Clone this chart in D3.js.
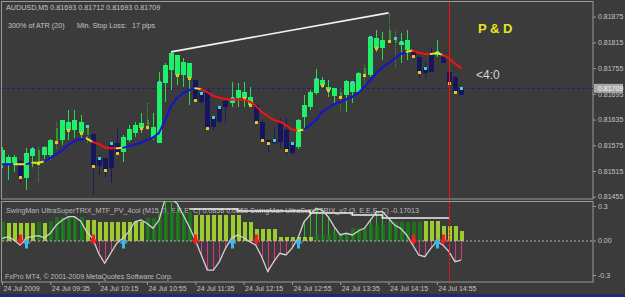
<!DOCTYPE html>
<html>
<head>
<meta charset="utf-8">
<script src="https://cdn.jsdelivr.net/npm/d3@7"></script>
<style>
html, body { margin:0; padding:0; background:#3b3b3b; overflow:hidden; }
svg { display:block; }
text { font-family:"Liberation Sans", Arial, sans-serif; }
</style>
</head>
<body>
<div class="container"></div>
<script>
// AUDUSD M5 bars, 24 Jul 2009 from 08:55
var opens = [0.81529,0.81531,0.81529,0.81538,0.81499,0.81550,0.81534,0.81552,0.81552,0.81583,
  0.81587,0.81611,0.81611,0.81604,0.81599,0.81601,0.81545,0.81545,0.81580,0.81580,
  0.81559,0.81587,0.81604,0.81615,0.81618,0.81594,0.81580,0.81720,0.81751,0.81739,
  0.81739,0.81732,0.81727,0.81697,0.81704,0.81641,0.81664,0.81678,0.81674,0.81685,
  0.81685,0.81669,0.81669,0.81629,0.81587,0.81587,0.81629,0.81611,0.81580,0.81571,
  0.81641,0.81664,0.81697,0.81716,0.81704,0.81690,0.81688,0.81692,0.81699,0.81699,
  0.81739,0.81739,0.81802,0.81802,0.81818,0.81814,0.81809,0.81797,0.81797,0.81781,
  0.81755,0.81790,0.81786,0.81781,0.81746,0.81734,0.81693];
var highs = [0.81571,0.81552,0.81552,0.81541,0.81569,0.81571,0.81571,0.81573,0.81590,0.81629,
  0.81634,0.81657,0.81657,0.81646,0.81620,0.81604,0.81552,0.81545,0.81580,0.81615,
  0.81599,0.81622,0.81629,0.81650,0.81674,0.81650,0.81746,0.81767,0.81793,0.81786,
  0.81779,0.81767,0.81727,0.81697,0.81704,0.81643,0.81667,0.81681,0.81723,0.81720,
  0.81723,0.81711,0.81671,0.81634,0.81590,0.81615,0.81639,0.81639,0.81583,0.81636,
  0.81692,0.81704,0.81753,0.81734,0.81727,0.81709,0.81709,0.81727,0.81723,0.81746,
  0.81762,0.81828,0.81844,0.81839,0.81884,0.81844,0.81837,0.81844,0.81802,0.81783,
  0.81769,0.81802,0.81821,0.81790,0.81751,0.81737,0.81712];
var lows = [0.81522,0.81494,0.81513,0.81487,0.81471,0.81524,0.81487,0.81543,0.81541,0.81564,
  0.81576,0.81587,0.81592,0.81587,0.81580,0.81459,0.81506,0.81501,0.81487,0.81552,
  0.81536,0.81583,0.81594,0.81604,0.81611,0.81587,0.81580,0.81676,0.81704,0.81716,
  0.81711,0.81669,0.81676,0.81669,0.81611,0.81611,0.81627,0.81627,0.81664,0.81664,
  0.81664,0.81664,0.81629,0.81580,0.81559,0.81576,0.81569,0.81552,0.81552,0.81566,
  0.81615,0.81657,0.81692,0.81709,0.81688,0.81674,0.81653,0.81653,0.81674,0.81699,
  0.81709,0.81734,0.81793,0.81774,0.81814,0.81758,0.81767,0.81774,0.81779,0.81732,
  0.81732,0.81746,0.81781,0.81767,0.81720,0.81697,0.81693];
var closes = [0.81564,0.81548,0.81548,0.81501,0.81557,0.81566,0.81564,0.81571,0.81587,0.81615,
  0.81634,0.81629,0.81634,0.81629,0.81620,0.81527,0.81527,0.81517,0.81522,0.81557,
  0.81594,0.81613,0.81622,0.81627,0.81634,0.81618,0.81723,0.81762,0.81790,0.81786,
  0.81769,0.81767,0.81681,0.81676,0.81615,0.81618,0.81629,0.81664,0.81685,0.81704,
  0.81699,0.81688,0.81629,0.81587,0.81580,0.81580,0.81583,0.81564,0.81557,0.81634,
  0.81669,0.81699,0.81730,0.81727,0.81711,0.81709,0.81699,0.81725,0.81723,0.81744,
  0.81755,0.81828,0.81825,0.81821,0.81844,0.81825,0.81816,0.81821,0.81783,0.81746,
  0.81744,0.81746,0.81793,0.81767,0.81720,0.81699,0.81709];
// candle colouring from the template: u = up, g = weak up, d = down
var tones = ['u','u','u','d','u','u','g','u','u','g',
  'u','u','u','u','g','d','d','d','d','d',
  'u','u','u','u','g','u','u','u','u','u',
  'u','u','d','d','d','d','d','d','u','u',
  'u','u','d','d','d','d','d','d','d','u',
  'u','u','u','u','u','u','g','u','u','u',
  'g','u','u','u','g','g','u','u','d','d',
  'd','d','u','d','d','d','d'];
// small marker squares: y = yellow (low end of body), c = cyan (high end)
var dots = ['','','','y','','c','y','','','y',
  '','y','','y','c','y','c','y','c','y',
  '','','','y','y','','c','','','y',
  '','y','y','c','y','c','c','','c','',
  'y','y','y','y','y','c','','y','c','',
  '','','c','y','y','','y','','c','',
  'y','c','y','','y','c','c','','y','y',
  'c','','c','','y','y','c'];
// moving average and its slope state (b = rising, r = falling, y = flat)
var maValues = [0.81531,0.81531,0.81531,0.81531,0.81531,0.81534,0.81534,0.81537,0.81545,0.81554,
  0.81564,0.81576,0.81585,0.81589,0.81591,0.81583,0.81578,0.81570,0.81568,0.81568,
  0.81569,0.81573,0.81577,0.81581,0.81587,0.81593,0.81604,0.81634,0.81667,0.81685,
  0.81697,0.81704,0.81708,0.81706,0.81699,0.81690,0.81686,0.81683,0.81682,0.81681,
  0.81681,0.81677,0.81667,0.81653,0.81643,0.81634,0.81630,0.81622,0.81612,0.81609,
  0.81612,0.81622,0.81634,0.81653,0.81662,0.81671,0.81676,0.81682,0.81688,0.81697,
  0.81711,0.81727,0.81744,0.81757,0.81766,0.81778,0.81788,0.81793,0.81796,0.81791,
  0.81788,0.81788,0.81790,0.81786,0.81778,0.81766,0.81755];
var maState = ['b','b','b','y','y','b','y','y','b','b',
  'b','b','b','b','b','y','r','r','r','r',
  'y','b','b','b','b','b','b','b','b','b',
  'b','b','b','y','r','r','r','r','r','r',
  'r','r','r','r','r','r','r','r','r','r',
  'y','b','b','b','b','b','b','b','b','b',
  'b','b','b','b','b','b','b','b','y','r',
  'r','r','y','y','r','r','r'];
var trendBars = [28, 64];
var cursorBar = 74;
var bidPrice = 0.81709;

// sub window: UltraSuperTRIX_v2 line, MTF histogram, level line
var trix = [0.019,0.033,0.004,-0.039,0.022,0.033,0.042,0.024,0.063,0.135,
  0.178,0.207,0.207,0.170,0.077,0.019,-0.111,-0.198,-0.111,-0.024,
  0.019,0.077,0.163,0.178,0.150,0.106,0.178,0.360,0.360,0.323,
  0.222,0.120,0.004,-0.126,-0.257,-0.257,-0.184,-0.068,0.019,0.048,
  0.024,-0.010,-0.039,-0.141,-0.271,-0.184,-0.111,-0.126,-0.068,0.019,
  0.163,0.222,0.280,0.265,0.207,0.120,0.048,0.063,0.048,0.083,
  0.106,0.178,0.250,0.250,0.193,0.135,0.106,0.048,-0.039,-0.126,
  -0.141,-0.068,-0.010,-0.039,-0.097,-0.184,-0.170];
var mtf = [0.163,0.155,0.155,0.155,0.155,0.155,0.161,0.155,0.170,0.204,
  0.204,0.204,0.204,0.204,0.178,0.178,0.160,0.160,0.160,0.160,
  0.160,0.160,0.160,0.160,0.196,0.196,0.248,0.248,0.248,0.248,
  0.248,0.248,0.222,0.222,0.222,0.222,0.222,0.222,0.222,0.222,
  0.161,0.161,0.100,0.100,0.100,0.100,0.030,0.030,0.030,0.030,
  0.030,0.030,0.050,0.050,0.050,0.065,0.065,0.065,0.109,0.109,
  0.109,0.135,0.135,0.135,0.163,0.163,0.163,0.163,0.163,0.163,
  0.170,0.170,0.170,0.129,0.129,0.129,0.0858];
var mtfTone = ['dg','yg','yg','yg','yg','yg','dg','yg','dg','dg',
  'dg','dg','dg','dg','yg','yg','yg','yg','yg','yg',
  'yg','yg','yg','yg','dg','dg','dg','dg','dg','dg',
  'dg','dg','yg','yg','yg','yg','yg','yg','yg','yg',
  'yg','yg','yg','yg','yg','yg','yg','yg','yg','yg',
  'yg','yg','dg','dg','dg','dg','dg','dg','dg','dg',
  'dg','dg','dg','dg','dg','dg','dg','dg','dg','dg',
  'yg','yg','yg','yg','yg','yg','yg'];
var levelStart = 31;
var levelLine = [0.274,0.274,0.274,0.274,0.274,0.274,0.274,0.274,0.257,0.257,
  0.257,0.257,0.257,0.257,0.257,0.257,0.257,0.257,0.257,0.257,
  0.239,0.239,0.239,0.239,0.239,0.239,0.239,0.222,0.222,0.222,
  0.222,0.222,0.196,0.196,0.196,0.196,0.196,0.196,0.196,0.196,
  0.196,0.196,0.196,0.196];
var downArrows = [3, 15, 32, 42, 68, 73];
var upArrows = [4, 20, 38, 49, 72];

var priceTicks = [0.81875,0.81815,0.81755,0.81695,0.81635,0.81575,0.81515,0.81455];
var subTicks = [0.3, 0, -0.3];
var subTickLabels = ['0.3', '0.00', '-0.3'];
var timeTickBars = [0, 8, 16, 24, 32, 40, 48, 56, 64, 72];
var timeTickLabels = ['24 Jul 2009','24 Jul 09:35','24 Jul 10:15','24 Jul 10:55','24 Jul 11:35',
  '24 Jul 12:15','24 Jul 12:55','24 Jul 13:35','24 Jul 14:15','24 Jul 14:55'];

var loadChart = function(){
    var width = 625, height = 297;
    var n = opens.length;
    var bars = d3.range(n);
    var gray = '#c4c4c4';

    var svg = d3.select('.container')
                .append('svg')
                .attr('width', width)
                .attr('height', height);

    svg.append('rect').attr('width', width).attr('height', height).attr('fill', '#3b3b3b');

    var defs = svg.append('defs');
    defs.append('clipPath').attr('id', 'mainClip')
        .append('rect').attr('x', 2).attr('y', 2).attr('width', 591).attr('height', 197);
    defs.append('clipPath').attr('id', 'subClip')
        .append('rect').attr('x', 2).attr('y', 201).attr('width', 591).attr('height', 81);

    var x = d3.scaleLinear().domain([0, 76]).range([2, 461]);
    var y = d3.scaleLinear().domain([0.81455, 0.81875]).range([196.7, 16.7]);
    var ys = d3.scaleLinear().domain([-0.3, 0.3]).range([275, 206]);

    // frames
    svg.append('rect').attr('x', 1.5).attr('y', 1.5).attr('width', 591.5).attr('height', 197.5)
        .attr('fill', 'none').attr('stroke', '#9a9a9a');
    svg.append('rect').attr('x', 1.5).attr('y', 201.5).attr('width', 591.5).attr('height', 80.5)
        .attr('fill', 'none').attr('stroke', '#9a9a9a');

    var main = svg.append('g').attr('clip-path', 'url(#mainClip)');

    // header texts
    main.append('text').attr('x', 6).attr('y', 10).attr('font-size', 7.2).attr('fill', gray)
        .text('AUDUSD,M5  0.81693 0.81712 0.81693 0.81709');
    main.append('text').attr('x', 8).attr('y', 28).attr('font-size', 7.2).attr('fill', gray)
        .text('300% of ATR (20)');
    main.append('text').attr('x', 77).attr('y', 28).attr('font-size', 7.2).attr('fill', gray)
        .text('Min. Stop Loss:');
    main.append('text').attr('x', 132).attr('y', 28).attr('font-size', 7.2).attr('fill', gray)
        .text('17 pips');

    // bid line
    main.append('line')
        .attr('x1', 2).attr('x2', 593)
        .attr('y1', Math.round(y(bidPrice)) + 0.5).attr('y2', Math.round(y(bidPrice)) + 0.5)
        .attr('stroke', '#1e1e7c').attr('stroke-dasharray', '3,2');

    // candles: wicks
    main.selectAll('line.wick')
        .data(bars).enter()
        .append('line')
        .attr('class', 'wick')
        .attr('shape-rendering', 'crispEdges')
        .attr('x1', function(i){ return Math.round(x(i)) + 0.5; })
        .attr('x2', function(i){ return Math.round(x(i)) + 0.5; })
        .attr('y1', function(i){ return y(highs[i]); })
        .attr('y2', function(i){ return y(lows[i]); })
        .attr('stroke', function(i){ return tones[i] == 'u' ? '#2bd84a' : tones[i] == 'g' ? '#3c9e3c' : '#1a1a66'; })
        .attr('stroke-dasharray', function(i){ return tones[i] == 'g' ? '1,1' : null; });

    // candles: bodies
    main.selectAll('rect.body')
        .data(bars).enter()
        .append('rect')
        .attr('class', 'body')
        .attr('shape-rendering', 'crispEdges')
        .attr('x', function(i){ return Math.round(x(i)) - (tones[i] == 'g' ? 0 : 2); })
        .attr('width', function(i){ return tones[i] == 'g' ? 2 : 5; })
        .attr('y', function(i){ return y(Math.max(opens[i], closes[i])); })
        .attr('height', function(i){ return Math.max(1.5, Math.abs(y(opens[i]) - y(closes[i]))); })
        .attr('fill', function(i){ return tones[i] == 'u' ? '#1ff06a' : tones[i] == 'g' ? '#2f9a2f' : '#16165e'; });

    // marker squares
    main.selectAll('rect.dot')
        .data(bars.filter(function(i){ return dots[i] != ''; })).enter()
        .append('rect')
        .attr('class', 'dot')
        .attr('shape-rendering', 'crispEdges')
        .attr('x', function(i){ return Math.round(x(i)) - 1; })
        .attr('y', function(i){
            var p = dots[i] == 'y' ? Math.min(opens[i], closes[i]) : Math.max(opens[i], closes[i]);
            return Math.round(y(p)) - 1;
        })
        .attr('width', 3).attr('height', 3)
        .attr('fill', function(i){ return dots[i] == 'y' ? '#f2c21c' : '#3ed2d2'; });

    // moving average coloured by slope
    var maColor = { b: '#1414d2', r: '#f01414', y: '#e4e41c' };
    main.selectAll('line.ma')
        .data(d3.range(1, n)).enter()
        .append('line')
        .attr('class', 'ma')
        .attr('x1', function(i){ return x(i - 1); })
        .attr('y1', function(i){ return y(maValues[i - 1]); })
        .attr('x2', function(i){ return x(i); })
        .attr('y2', function(i){ return y(maValues[i]); })
        .attr('stroke', function(i){ return maColor[maState[i]]; })
        .attr('stroke-width', 2)
        .attr('stroke-linecap', 'round');

    // trend line across the two highs
    main.append('line')
        .attr('x1', x(trendBars[0])).attr('y1', y(highs[trendBars[0]]))
        .attr('x2', x(trendBars[1])).attr('y2', y(highs[trendBars[1]]))
        .attr('stroke', '#f2f2f2').attr('stroke-width', 1.6);

    // labels on the chart
    main.append('text').attr('x', 478).attr('y', 33)
        .attr('font-size', 13).attr('font-weight', 'bold').attr('fill', '#e6e61e')
        .text('P & D');
    main.append('text').attr('x', 476).attr('y', 79)
        .attr('font-size', 12).attr('fill', '#d6d6d6')
        .text('<4:0');

    // price axis
    var pAxis = svg.append('g')
        .attr('transform', 'translate(593,0)')
        .call(d3.axisRight(y).tickValues(priceTicks).tickSize(3).tickFormat(d3.format('.5f')));
    pAxis.select('.domain').remove();
    pAxis.selectAll('line').attr('stroke', '#9a9a9a');
    pAxis.selectAll('text').attr('font-size', 7).attr('fill', gray).attr('x', 5).attr('font-family', '"Liberation Sans", Arial, sans-serif');

    // bid label
    svg.append('rect').attr('x', 594).attr('y', y(bidPrice) - 4).attr('width', 29).attr('height', 9)
        .attr('fill', '#a8a8a8');
    svg.append('text').attr('x', 598).attr('y', y(bidPrice) + 3)
        .attr('font-size', 7).attr('fill', '#f4f4f4').text(d3.format('.5f')(bidPrice));

    // sub window
    var sub = svg.append('g').attr('clip-path', 'url(#subClip)');

    sub.append('text').attr('x', 6).attr('y', 213).attr('font-size', 7).attr('fill', '#bcbcbc')
        .attr('textLength', 413).attr('lengthAdjust', 'spacingAndGlyphs')
        .text('SwingMan UltraSuperTRIX_MTF_PV_4col (M15, 3, E,E,E, C) 0.0858 0.0858  SwingMan UltraSuperTRIX_v2 (3, E,E,E, C) -0.17013');
    sub.append('text').attr('x', 5).attr('y', 279).attr('font-size', 7).attr('fill', '#bcbcbc')
        .text('FxPro MT4, \u00a9 2001-2009 MetaQuotes Software Corp.');

    // thin TRIX histogram
    sub.selectAll('line.th')
        .data(bars).enter()
        .append('line')
        .attr('class', 'th')
        .attr('shape-rendering', 'crispEdges')
        .attr('x1', function(i){ return Math.round(x(i)) + 0.5; })
        .attr('x2', function(i){ return Math.round(x(i)) + 0.5; })
        .attr('y1', ys(0))
        .attr('y2', function(i){ return ys(trix[i]); })
        .attr('stroke', function(i){ return trix[i] >= 0 ? '#12c812' : '#e0308e'; });

    // MTF histogram
    sub.selectAll('rect.mtf')
        .data(bars).enter()
        .append('rect')
        .attr('class', 'mtf')
        .attr('shape-rendering', 'crispEdges')
        .attr('x', function(i){ return Math.round(x(i)) - 1.5; })
        .attr('width', 4)
        .attr('y', function(i){ return ys(mtf[i]); })
        .attr('height', function(i){ return ys(0) - ys(mtf[i]); })
        .attr('fill', function(i){ return mtfTone[i] == 'yg' ? '#9ccc30' : '#1c7e1c'; })
        .attr('fill-opacity', function(i){ return mtfTone[i] == 'yg' ? 1 : 0.8; });

    // zero line
    sub.append('line').attr('x1', 2).attr('x2', 593).attr('y1', ys(0) + 0.5).attr('y2', ys(0) + 0.5)
        .attr('stroke', '#b4b4b4').attr('stroke-dasharray', '2,2');

    // level line
    sub.append('path')
        .datum(levelLine)
        .attr('fill', 'none').attr('stroke', '#f0f0f0').attr('stroke-width', 1.6)
        .attr('d', d3.line().x(function(d, k){ return x(levelStart + k); }).y(function(d){ return ys(d); }).curve(d3.curveStepAfter));

    // TRIX line
    sub.append('path')
        .datum(trix)
        .attr('fill', 'none').attr('stroke', '#d2d2d2').attr('stroke-width', 1.3)
        .attr('d', d3.line().x(function(d, i){ return x(i); }).y(function(d){ return ys(d); }));

    // arrows
    var downPath = 'M-1.5,-7 L1.5,-7 L1.5,-2 L4,-2 L0,3 L-4,-2 L-1.5,-2 Z';
    var upPath = 'M-1.5,7 L1.5,7 L1.5,2 L4,2 L0,-3 L-4,2 L-1.5,2 Z';
    sub.selectAll('path.dn')
        .data(downArrows).enter()
        .append('path')
        .attr('class', 'dn')
        .attr('transform', function(i){ return 'translate(' + (Math.round(x(i)) + 0.5) + ',' + (ys(0) + 1) + ')'; })
        .attr('d', downPath).attr('fill', '#ff1c1c');
    sub.selectAll('path.up')
        .data(upArrows).enter()
        .append('path')
        .attr('class', 'up')
        .attr('transform', function(i){ return 'translate(' + (Math.round(x(i)) + 0.5) + ',' + (ys(0) + 1) + ')'; })
        .attr('d', upPath).attr('fill', '#3cb8ec');

    // sub axis
    var sAxis = svg.append('g')
        .attr('transform', 'translate(593,0)')
        .call(d3.axisRight(ys).tickValues(subTicks).tickSize(3).tickFormat(function(d, i){ return subTickLabels[i]; }));
    sAxis.select('.domain').remove();
    sAxis.selectAll('line').attr('stroke', '#9a9a9a');
    sAxis.selectAll('text').attr('font-size', 7).attr('fill', gray).attr('x', 5).attr('font-family', '"Liberation Sans", Arial, sans-serif');

    // cursor line through both windows
    var cx = Math.round(x(cursorBar)) + 0.5;
    svg.append('line').attr('x1', cx).attr('x2', cx)
        .attr('y1', 2).attr('y2', 199).attr('stroke', '#ff1010').attr('shape-rendering', 'crispEdges');
    svg.append('line').attr('x1', cx).attr('x2', cx)
        .attr('y1', 202).attr('y2', 282).attr('stroke', '#ff1010').attr('stroke-dasharray', '3,1')
        .attr('shape-rendering', 'crispEdges');

    // time axis
    var tAxis = svg.append('g')
        .attr('transform', 'translate(0,282)')
        .call(d3.axisBottom(x).tickValues(timeTickBars).tickSize(3).tickFormat(function(d, i){ return timeTickLabels[i]; }));
    tAxis.select('.domain').remove();
    tAxis.selectAll('line').attr('stroke', '#9a9a9a');
    tAxis.selectAll('text').attr('font-size', 7).attr('fill', gray).attr('text-anchor', 'start')
        .attr('dx', 1).attr('y', 4).attr('dy', '0.71em').attr('font-family', '"Liberation Sans", Arial, sans-serif');

    // status strip
    svg.append('rect').attr('x', 0).attr('y', 294).attr('width', width).attr('height', 3).attr('fill', '#1c2a7a');
};
window.onload = loadChart;
</script>
</body>
</html>
